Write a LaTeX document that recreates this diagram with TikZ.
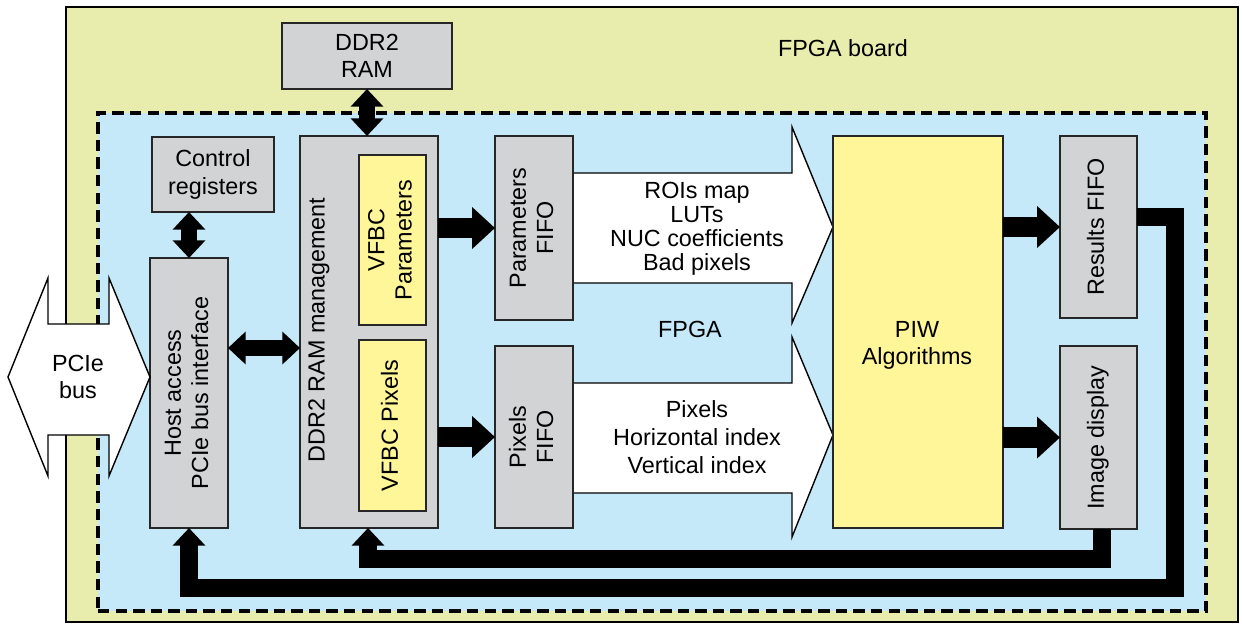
\documentclass[tikz,border=0pt]{standalone}
\usepackage{fontspec}
\setmainfont{Liberation Sans}
\usetikzlibrary{arrows.meta}
\definecolor{boardcol}{RGB}{232,237,174}
\definecolor{fpgacol}{RGB}{197,233,249}
\definecolor{boxgray}{RGB}{210,211,213}
\definecolor{boxyel}{RGB}{255,246,153}
\pgfdeclarelayer{bg}
\pgfdeclarelayer{mid}
\pgfsetlayers{bg,mid,main}
\newcommand\bx[7]{%
  \pgfmathsetmacro\bxw{(#4-#2)*0.02}%
  \pgfmathsetmacro\bxh{(#5-#3)*0.02}%
  \node[#6, minimum width=\bxw cm, minimum height=\bxh cm] (#1) at ({(#2+#4)/2},{(#3+#5)/2}) {#7};}
\newcommand\rt[1]{\rotatebox{90}{\begin{tabular}{@{}c@{}}#1\end{tabular}}}
\begin{document}
\begin{tikzpicture}[x=0.02cm,y=-0.02cm,
  every node/.style={font=\fontsize{13.3}{15.5}\selectfont, inner sep=0pt, outer sep=0pt},
  gbox/.style={draw=black!85, line width=0.7pt, fill=boxgray, align=center},
  ybox/.style={draw=black!85, line width=0.7pt, fill=boxyel, align=center},
  blk/.style={line width=11.5pt, -{Triangle[length=13pt,width=23pt]}},
  dbl/.style={line width=9pt, {Triangle[length=10pt,width=18pt]}-{Triangle[length=10pt,width=18pt]}},
  fb/.style={line width=10pt, line join=miter, -{Triangle[length=10pt,width=18pt]}},
  bigarrow/.style={draw=black, line width=0.8pt, fill=white, line join=miter},
]
\useasboundingbox (0,0) rectangle (1242,626);
\begin{pgfonlayer}{bg}
\fill[white] (0,0) rectangle (1242,626);
\bx{board}{66}{7}{1238}{622}{draw=black, line width=1.2pt, fill=boardcol}{}
\bx{fpga}{98}{113}{1206}{611}{draw=black, line width=1.8pt, dash pattern=on 6.5pt off 3.5pt, fill=fpgacol}{}
\node (boardlbl) at (843,48) {FPGA board};
\node (fpgalbl) at (690,329) {FPGA};
\end{pgfonlayer}

% boxes
\bx{ddr}{282}{23}{452}{89}{gbox}{DDR2\\RAM}
\bx{ctrl}{152}{137}{274}{212}{gbox}{Control\\registers}
\bx{host}{150}{258}{228}{528}{gbox}{\rt{Host access\\PCIe bus interface}}
\bx{mgmt}{300}{136}{438}{528}{gbox}{}
\node (mgmtlbl) at (319,330) {\rotatebox{90}{DDR2 RAM management}};
\bx{vpar}{359}{155}{426}{325}{ybox}{\rt{VFBC\\Parameters}}
\bx{vpix}{359}{340}{426}{511}{ybox}{\rt{VFBC Pixels}}
\bx{pf}{495}{136}{573}{320}{gbox}{\rt{Parameters\\FIFO}}
\bx{pxf}{495}{346}{573}{528}{gbox}{\rt{Pixels\\FIFO}}
\bx{piw}{833}{136}{1003}{528}{ybox}{}
\node[align=center] (piwlbl) at (917,345) {PIW\\Algorithms};
\bx{rf}{1060}{136}{1137}{318}{gbox}{\rt{Results FIFO}}
\bx{img}{1060}{346}{1137}{529}{gbox}{\rt{Image display}}

% big white arrows
\begin{pgfonlayer}{mid}
\draw[bigarrow] (pf.east |- 0,173) -- (792,173) -- (792,127) -- (piw.west |- 0,227) -- (792,323) -- (792,283) -- (pf.east |- 0,283);
\draw[bigarrow] (pxf.east |- 0,383) -- (792,383) -- (792,337) -- (piw.west |- 0,435) -- (792,537) -- (792,493) -- (pxf.east |- 0,493);
\end{pgfonlayer}
\node[align=center, font=\fontsize{13.3}{13.7}\selectfont] (partxt) at (697,229) {ROIs map\\LUTs\\NUC coefficients\\Bad pixels};
\node[align=center, font=\fontsize{13.3}{16}\selectfont] (pixtxt) at (697,437) {Pixels\\Horizontal index\\Vertical index};

% black arrows
\draw[dbl] (ddr.south) -- (ddr.south |- mgmt.north);
\draw[dbl] (host.north) -- (host.north |- ctrl.south);
\draw[dbl] (host.east |- 0,348) -- (mgmt.west |- 0,348);
\draw[blk] (mgmt.east |- pf.west) -- (pf.west);
\draw[blk] (mgmt.east |- pxf.west) -- (pxf.west);
\draw[blk] (piw.east |- rf.west) -- (rf.west);
\draw[blk] (piw.east |- img.west) -- (img.west);
\draw[fb] (rf.east |- 0,217) -- (1175,217) -- (1175,588) -- (189,588) -- (189,0 |- host.south);
\draw[fb] (1102,0 |- img.south) -- (1102,559) -- (368,559) -- (368,0 |- mgmt.south);

% PCIe bus arrow
\draw[bigarrow] (host.west |- 0,377) -- (109,278) -- (109,324) -- (48,324) -- (48,278) -- (8,377) -- (48,476) -- (48,435) -- (109,435) -- (109,476) -- cycle;
\node[align=center] (pcie) at (78,377) {PCIe\\bus};
\end{tikzpicture}
\end{document}
